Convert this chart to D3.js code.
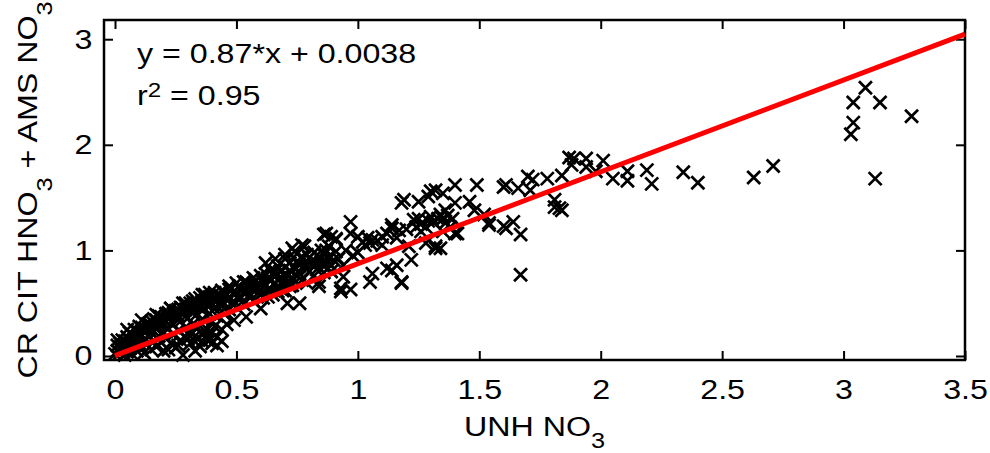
<!DOCTYPE html>
<html>
<head>
<meta charset="utf-8">
<script src="https://cdn.jsdelivr.net/npm/d3@7"></script>
<style>
  body { margin: 0; background: #fff; }
  text { font-family: "Liberation Sans", Arial, sans-serif; fill: #000; }
</style>
</head>
<body>
<div id="chart"></div>
<script>
// UNH NO3 (x) vs CR CIT HNO3 + AMS NO3 (y)
var points = [
  // sparse high end
  [2.34,1.74],[2.40,1.64],[2.63,1.69],[2.71,1.80],[3.04,2.40],[3.09,2.54],[3.15,2.40],
  [3.04,2.21],[3.03,2.10],[3.13,1.68],[3.28,2.27],
  [2.01,1.85],[2.05,1.68],[2.11,1.75],[2.11,1.66],[2.19,1.76],[2.21,1.63],
  // 1.3 - 2.0
  [1.40,1.62],[1.49,1.62],[1.60,1.60],[1.61,1.62],[1.66,1.59],[1.70,1.70],[1.72,1.67],
  [1.71,1.57],[1.78,1.68],[1.84,1.71],[1.87,1.88],[1.89,1.87],[1.88,1.81],[1.94,1.87],
  [1.94,1.79],[1.98,1.75],[1.81,1.41],[1.83,1.40],[1.84,1.38],[1.81,1.48],[1.67,0.77],
  [1.67,1.15],[1.64,1.27],[1.61,1.21],[1.54,1.26],[1.52,1.34],[1.48,1.38],[1.46,1.46],
  [1.40,1.45],[1.40,1.16],[1.34,1.02],[1.35,1.54],
  // 0.85 - 1.4
  [1.18,1.45],[1.19,1.48],[1.25,1.46],[1.29,1.51],[1.32,1.57],[0.97,1.27],[0.91,1.10],
  [1.05,1.07],[1.14,1.21],[1.23,1.29],[1.30,1.32],[1.35,1.30],[1.41,1.16],[1.54,1.24],
  [1.60,1.23],[1.32,1.04],[1.28,1.07],[1.22,0.91],[1.18,0.70],[1.16,0.86],[1.12,0.83],
  [1.06,0.78],[1.05,0.70],[0.97,0.63],[0.93,0.61],[0.97,1.16],[0.91,0.99],[1.10,1.13],
  [1.30,1.56],[1.36,1.38],[1.32,1.02],[1.18,0.69],[0.93,0.64],[0.84,0.66],[0.94,0.75],
  [1.06,1.10],[1.03,1.05],[1.00,1.13],[0.91,1.11],[0.87,1.16],[0.87,1.00],[0.90,0.91],
  [0.86,0.85],[1.17,1.19],[1.14,1.24],[1.26,1.18],[1.35,1.18],[1.14,0.81],[1.21,1.04],
  [1.02,1.08],[1.04,1.12],[1.08,1.09],[1.10,1.05],[1.20,1.20],[1.24,1.22],[1.26,1.25],
  [1.28,1.22],[1.31,1.27],[1.33,1.30],[1.36,1.26],[1.38,1.22],[0.95,1.00],[0.98,0.95],
  [1.00,0.98],[0.92,0.92],[0.94,0.86],[0.89,0.80],[0.89,1.13],
  [1.12,1.16],[1.16,1.12],[1.25,1.30],[1.29,1.28],[1.34,1.34],[1.37,1.33],[1.39,1.30],
  // 0.35 - 0.9
  [0.86,1.15],[0.77,1.05],[0.75,0.97],[0.67,0.85],[0.64,0.81],[0.59,0.69],[0.53,0.70],
  [0.47,0.63],[0.41,0.56],[0.36,0.58],[0.72,0.66],[0.71,0.50],[0.60,0.45],[0.54,0.37],
  [0.49,0.34],[0.38,0.25],[0.39,0.15],[0.82,0.85],[0.79,0.69],[0.84,0.70],[0.76,0.50],
  [0.67,0.61],[0.70,0.96],[0.73,1.02],[0.66,0.92],[0.62,0.88],
  [0.43,0.58],[0.28,0.50],[0.32,0.48],[0.23,0.45],[0.17,0.39],[0.11,0.34],[0.05,0.25],
  [0.01,0.15],[0.36,0.20],[0.28,0.01],[0.35,0.09],[0.42,0.10],
  [0.45,0.60],[0.48,0.64],[0.51,0.66],[0.53,0.60],[0.55,0.68],[0.57,0.74],[0.58,0.63],
  [0.60,0.76],[0.61,0.70],[0.63,0.74],[0.64,0.62],[0.65,0.77],[0.67,0.72],[0.68,0.80],
  [0.69,0.70],[0.70,0.84],[0.71,0.76],[0.72,0.88],[0.73,0.74],[0.74,0.84],[0.75,0.90],
  [0.76,0.78],[0.77,0.94],[0.78,0.86],[0.79,0.96],[0.80,0.80],[0.81,0.90],[0.82,0.98],
  [0.83,0.82],[0.84,0.94],[0.85,0.88],[0.86,0.96],[0.87,0.90],[0.88,1.04],[0.89,0.86],
  [0.45,0.50],[0.47,0.56],[0.49,0.52],[0.50,0.60],[0.52,0.55],[0.54,0.63],[0.56,0.58],
  [0.58,0.66],[0.60,0.58],[0.62,0.68],[0.63,0.56],[0.66,0.69],[0.68,0.64],[0.70,0.62],
  [0.40,0.22],[0.42,0.18],[0.44,0.14],[0.38,0.20],[0.36,0.14],[0.34,0.16],[0.32,0.22],
  [0.30,0.16],[0.44,0.25],[0.41,0.28],[0.46,0.30],[0.33,0.05],[0.26,0.10],[0.22,0.06],
  // dense band near the origin
  [0.00,0.02],[0.01,0.05],[0.01,0.10],[0.02,0.03],[0.02,0.12],[0.03,0.06],[0.03,0.15],
  [0.04,0.01],[0.04,0.09],[0.05,0.04],[0.05,0.18],[0.05,0.12],[0.06,0.07],[0.06,0.22],
  [0.07,0.02],[0.07,0.14],[0.08,0.10],[0.08,0.25],[0.09,0.05],[0.09,0.17],[0.10,0.12],
  [0.10,0.28],[0.11,0.08],[0.11,0.20],[0.12,0.15],[0.12,0.03],[0.13,0.24],[0.13,0.11],
  [0.14,0.18],[0.14,0.31],[0.15,0.06],[0.15,0.22],[0.16,0.14],[0.16,0.35],[0.17,0.27],
  [0.17,0.09],[0.18,0.19],[0.18,0.38],[0.19,0.13],[0.19,0.30],[0.20,0.22],[0.20,0.05],
  [0.21,0.33],[0.21,0.17],[0.22,0.41],[0.22,0.26],[0.23,0.12],[0.23,0.45],[0.24,0.30],
  [0.24,0.20],[0.25,0.37],[0.25,0.08],[0.26,0.24],[0.26,0.44],[0.27,0.15],[0.27,0.33],
  [0.28,0.40],[0.29,0.27],[0.29,0.50],[0.30,0.21],[0.30,0.36],[0.31,0.44],[0.31,0.12],
  [0.32,0.30],[0.32,0.52],[0.33,0.38],[0.33,0.19],[0.34,0.47],[0.34,0.27],[0.35,0.55],
  [0.36,0.35],[0.36,0.43],[0.37,0.58],[0.37,0.24],[0.38,0.49],[0.38,0.15],[0.39,0.40],
  [0.39,0.60],[0.40,0.33],[0.40,0.12],[0.41,0.52],[0.41,0.45],[0.42,0.38],[0.43,0.56],
  [0.44,0.47],[0.44,0.62],[0.45,0.40],[0.46,0.53],[0.47,0.44],[0.47,0.66],[0.48,0.50],
  [0.49,0.58],[0.50,0.46],[0.50,0.69],[0.51,0.54],[0.52,0.62],[0.53,0.49],[0.54,0.70],
  [0.55,0.57],[0.56,0.64],[0.57,0.52],[0.58,0.72],[0.59,0.60],[0.60,0.67],[0.61,0.55],
  [0.62,0.78],[0.63,0.63],[0.64,0.71],[0.65,0.58],[0.66,0.80],[0.67,0.66],[0.68,0.74],
  [0.69,0.62],[0.70,0.92],[0.71,0.70],[0.72,0.81],[0.73,0.67],[0.74,0.99],[0.75,0.76],
  [0.76,0.86],[0.77,0.72],[0.78,1.04],[0.79,0.82],[0.80,0.93],[0.82,0.76],[0.83,0.88],
  [0.85,1.00],[0.86,0.79],[0.88,0.94],
  [0.02,0.08],[0.04,0.14],[0.06,0.12],[0.08,0.18],[0.10,0.20],[0.12,0.24],[0.14,0.26],
  [0.16,0.28],[0.18,0.30],[0.20,0.34],[0.22,0.36],[0.24,0.40],[0.26,0.38],[0.28,0.44],
  [0.30,0.46],[0.32,0.42],[0.34,0.50],[0.36,0.52],[0.38,0.54],[0.40,0.50],[0.42,0.54],
  [0.07,0.20],[0.09,0.24],[0.11,0.27],[0.13,0.30],[0.15,0.33],[0.17,0.34],[0.19,0.37],
  [0.21,0.40],[0.23,0.38],[0.25,0.43],[0.27,0.46],[0.29,0.44],[0.31,0.50],[0.33,0.54],
  [0.35,0.46],[0.37,0.50],[0.39,0.56],[0.41,0.60],[0.43,0.50],[0.46,0.58]
];

var xTicks = [0, 0.5, 1, 1.5, 2, 2.5, 3, 3.5];
var yTicks = [0, 1, 2, 3];

var fitSlope = 0.87;
var fitIntercept = 0.0038;
var fitR2 = 0.95;

var width = 990, height = 453;
var margin = {top: 20, right: 25, bottom: 93, left: 104};
var stretch = 'scale(1.15,1)';   // the original font is drawn a bit wide

var svg = d3.select('#chart')
  .append('svg')
  .attr('width', width)
  .attr('height', height);

var x = d3.scaleLinear()
  .domain([-0.0453, 3.5])
  .range([margin.left, width - margin.right]);

var y = d3.scaleLinear()
  .domain([-0.038, 3.182])
  .range([height - margin.bottom, margin.top]);

var fmt = d3.format('~g');

// bottom axis with labels, ticks inward
svg.append('g')
  .attr('transform', 'translate(0,' + (height - margin.bottom) + ')')
  .call(d3.axisBottom(x).tickValues(xTicks).tickSize(-9).tickSizeOuter(0).tickPadding(19).tickFormat(fmt));

svg.append('g')
  .attr('transform', 'translate(' + margin.left + ',0)')
  .call(d3.axisLeft(y).tickValues(yTicks).tickSize(-9).tickSizeOuter(0).tickPadding(10).tickFormat(fmt));

// top and right: ticks only
svg.append('g')
  .attr('transform', 'translate(0,' + margin.top + ')')
  .call(d3.axisTop(x).tickValues(xTicks).tickSize(-9).tickSizeOuter(0).tickFormat(''));

svg.append('g')
  .attr('transform', 'translate(' + (width - margin.right) + ',0)')
  .call(d3.axisRight(y).tickValues(yTicks).tickSize(-9).tickSizeOuter(0).tickFormat(''));

svg.selectAll('.domain').remove();
svg.selectAll('.tick line').attr('stroke', '#000').attr('stroke-width', 2);
svg.selectAll('.tick text')
  .attr('font-size', '28px')
  .attr('fill', '#000')
  .attr('font-family', '"Liberation Sans", Arial, sans-serif')
  .attr('transform', stretch);

// frame
svg.append('rect')
  .attr('x', margin.left)
  .attr('y', margin.top)
  .attr('width', width - margin.right - margin.left)
  .attr('height', height - margin.bottom - margin.top)
  .attr('fill', 'none')
  .attr('stroke', '#000')
  .attr('stroke-width', 2.5);

// x markers
var s = 6.5;
var marks = svg.append('g')
  .attr('stroke', '#000')
  .attr('stroke-width', 2.7)
  .attr('fill', 'none');

marks.selectAll('path')
  .data(points)
  .enter()
  .append('path')
  .attr('d', function (d) {
    var cx = x(d[0]), cy = y(d[1]);
    return 'M' + (cx - s) + ',' + (cy - s) + 'L' + (cx + s) + ',' + (cy + s) +
      'M' + (cx - s) + ',' + (cy + s) + 'L' + (cx + s) + ',' + (cy - s);
  });

// regression line
var fitLine = d3.line()
  .x(function (d) { return x(d); })
  .y(function (d) { return y(fitSlope * d + fitIntercept); });

svg.append('path')
  .datum([0, 3.5])
  .attr('d', fitLine)
  .attr('stroke', '#ff0000')
  .attr('stroke-width', 5)
  .attr('fill', 'none');

// equation text
svg.append('text')
  .attr('transform', 'translate(137,63) ' + stretch)
  .attr('font-size', '28px')
  .text('y = ' + fitSlope + '*x + ' + fitIntercept);

var r2Text = svg.append('text')
  .attr('transform', 'translate(137,105) ' + stretch)
  .attr('font-size', '28px');
r2Text.append('tspan').text('r');
r2Text.append('tspan').attr('font-size', '21px').attr('dy', -8).text('2');
r2Text.append('tspan').attr('dy', 8).text(' = ' + fitR2.toFixed(2));

// axis titles
var xTitle = svg.append('text')
  .attr('transform', 'translate(' + ((margin.left + width - margin.right) / 2) + ',436) ' + stretch)
  .attr('text-anchor', 'middle')
  .attr('font-size', '28px');
xTitle.append('tspan').text('UNH NO');
xTitle.append('tspan').attr('font-size', '22px').attr('dy', 12).text('3');

var yTitle = svg.append('text')
  .attr('transform', 'translate(37,' + ((margin.top + height - margin.bottom) / 2) + ') rotate(-90) ' + stretch)
  .attr('text-anchor', 'middle')
  .attr('font-size', '28px');
yTitle.append('tspan').text('CR CIT HNO');
yTitle.append('tspan').attr('font-size', '22px').attr('dy', 15).text('3');
yTitle.append('tspan').attr('dy', -15).text(' + AMS NO');
yTitle.append('tspan').attr('font-size', '22px').attr('dy', 15).text('3');
</script>
</body>
</html>
